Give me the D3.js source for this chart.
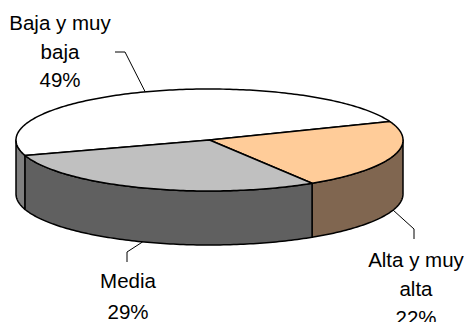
<!DOCTYPE html>
<html>
<head>
<meta charset="utf-8">
<script src="https://cdn.jsdelivr.net/npm/d3@7"></script>
<style>
  html, body { margin: 0; padding: 0; background: #fff; }
  svg { display: block; }
  text { font-family: "Liberation Sans", Arial, sans-serif; font-size: 20.5px; fill: #000; }
</style>
</head>
<body>
<svg id="chart" width="464" height="322"></svg>
<script>
// Data
const categories = ["Baja y muy baja", "Alta y muy alta", "Media"];
const labelLines = [["Baja y muy", "baja"], ["Alta y muy", "alta"], ["Media"]];
const values = [49, 22, 29];
const percentLabels = ["49%", "22%", "29%"];
const topColors = ["#FFFFFF", "#FFCC99", "#C0C0C0"];
const sideColors = ["#808080", "#806650", "#606060"];

// Geometry of the tilted pie
const cx = 209.5, cy = 140, rx = 193.5, ry = 51, depth = 54;
const deg = Math.PI / 180;
const start = -107.6 * deg;

// Label anchor (text centre x, first baseline, line gap) and leader elbows
const labelPos = [
  { x: 60, y: 30, gap: 28.5, elbow: [[115, 52], [125, 52]], face: "top" },
  { x: 416, y: 266.5, gap: 29, elbow: [[414, 239], [414, 229]], face: "bottom" },
  { x: 128, y: 288, gap: 30.5, elbow: [[127, 262], [127, 252]], face: "bottom" }
];

const svg = d3.select("#chart");

const pie = d3.pie().sort(null).value(d => d)
  .startAngle(start).endAngle(start + 2 * Math.PI);
const arcs = pie(values);

function pt(a, dz) {
  return [cx + rx * Math.sin(a), cy - ry * Math.cos(a) + (dz || 0)];
}
function sample(a0, a1, dz) {
  const n = Math.max(2, Math.ceil(Math.abs(a1 - a0) / (1 * deg)));
  return d3.range(n + 1).map(i => pt(a0 + (a1 - a0) * i / n, dz));
}
const line = d3.line();

// Outer walls: only the front half (90°..270°) is visible
function wallRanges(a0, a1) {
  const out = [];
  for (const k of [-1, 0, 1]) {
    const lo = Math.PI / 2 + k * 2 * Math.PI, hi = 3 * Math.PI / 2 + k * 2 * Math.PI;
    const s = Math.max(a0, lo), e = Math.min(a1, hi);
    if (e > s) out.push([s, e]);
  }
  return out;
}

const walls = svg.append("g");
arcs.forEach((d, i) => {
  wallRanges(d.startAngle, d.endAngle).forEach(([s, e]) => {
    const pts = sample(s, e, 0).concat(sample(e, s, depth));
    walls.append("path")
      .attr("d", line(pts) + "Z")
      .attr("fill", sideColors[i])
      .attr("stroke", "#000")
      .attr("stroke-width", 1.5)
      .attr("stroke-linejoin", "round");
  });
});

// Top faces
const tops = svg.append("g");
arcs.forEach((d, i) => {
  const pts = [[cx, cy]].concat(sample(d.startAngle, d.endAngle, 0));
  tops.append("path")
    .attr("d", line(pts) + "Z")
    .attr("fill", topColors[i])
    .attr("stroke", "#000")
    .attr("stroke-width", 1.5)
    .attr("stroke-linejoin", "round");
});

// Leader lines from each slice's mid-angle edge to its label
const leaders = svg.append("g");
arcs.forEach((d, i) => {
  const mid = (d.startAngle + d.endAngle) / 2;
  const p = labelPos[i];
  const anchor = pt(mid, p.face === "bottom" ? depth : 0);
  const pts = p.face === "top"
    ? p.elbow.concat([anchor])
    : [anchor].concat(p.elbow.slice().reverse());
  leaders.append("path")
    .attr("d", line(pts))
    .attr("fill", "none")
    .attr("stroke", "#000")
    .attr("stroke-width", 1);
});

// Labels
const labels = svg.append("g");
arcs.forEach((d, i) => {
  const p = labelPos[i];
  const lines = labelLines[i].concat([percentLabels[i]]);
  const t = labels.append("text")
    .attr("text-anchor", "middle")
    .attr("x", p.x)
    .attr("y", p.y);
  lines.forEach((s, j) => {
    t.append("tspan").attr("x", p.x).attr("y", p.y + j * p.gap).text(s);
  });
});
</script>
</body>
</html>
